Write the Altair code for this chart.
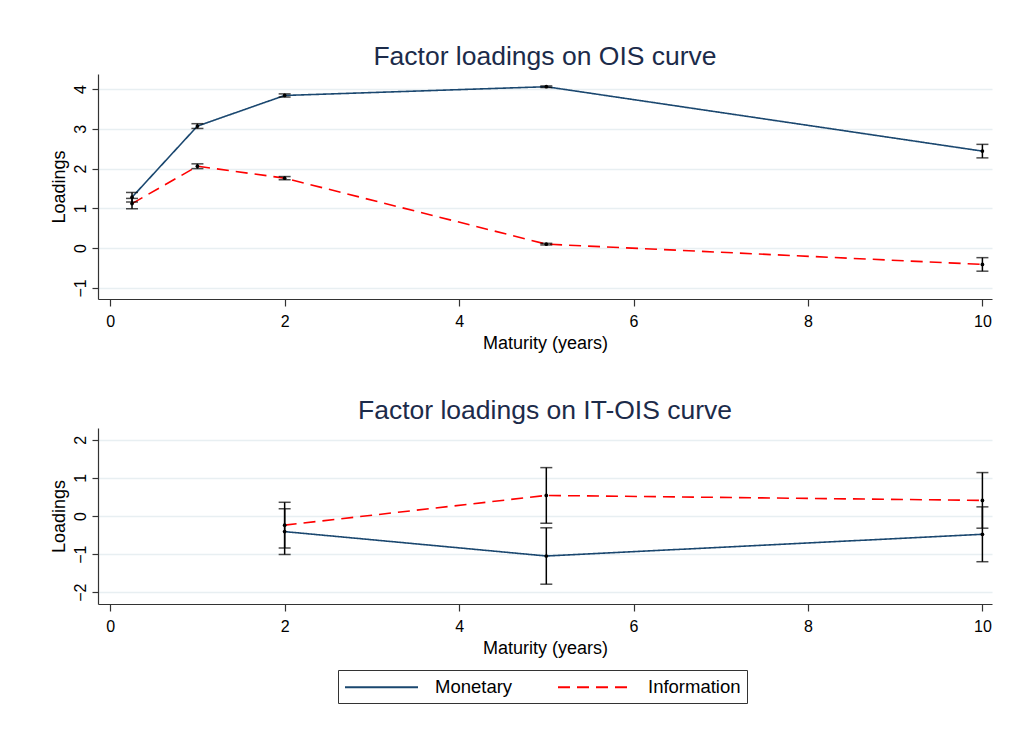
import altair as alt
import pandas as pd

# ---- data ----
series = ["Monetary", "Information"]

mat_top = [0.25, 1, 2, 5, 10]
mon_top = [1.28, 3.07, 3.84, 4.06, 2.44]
mon_top_hw = [0.12, 0.06, 0.04, 0.02, 0.17]
info_top = [1.12, 2.06, 1.76, 0.10, -0.41]
info_top_hw = [0.13, 0.06, 0.04, 0.02, 0.17]

mat_bot = [2, 5, 10]
mon_bot = [-0.41, -1.05, -0.48]
mon_bot_hw = [0.60, 0.74, 0.72]
info_bot = [-0.24, 0.54, 0.41]
info_bot_hw = [0.60, 0.73, 0.73]

x_ticks = [0, 2, 4, 6, 8, 10]
y_ticks_top = [-1, 0, 1, 2, 3, 4]
y_ticks_bot = [-2, -1, 0, 1, 2]


def frame(mat, mon, mon_hw, info, info_hw):
    rows = []
    for m, v, h in zip(mat, mon, mon_hw):
        rows.append({"maturity": m, "loading": v, "lo": v - h, "hi": v + h, "series": "Monetary"})
    for m, v, h in zip(mat, info, info_hw):
        rows.append({"maturity": m, "loading": v, "lo": v - h, "hi": v + h, "series": "Information"})
    return pd.DataFrame(rows)


df_top = frame(mat_top, mon_top, mon_top_hw, info_top, info_top_hw)
df_bot = frame(mat_bot, mon_bot, mon_bot_hw, info_bot, info_bot_hw)

FONT = "Arial"
W = 894


def panel(df, title, ydom, yticks, h):
    xs = alt.X("maturity:Q", scale=alt.Scale(domain=[-0.14, 10.11], nice=False, zero=False),
               axis=alt.Axis(values=x_ticks, title="Maturity (years)", grid=False, format="d",
                             labelPadding=7, tickSize=7))
    ys = alt.Y("loading:Q", scale=alt.Scale(domain=ydom, nice=False, zero=False),
               axis=alt.Axis(values=yticks, title="Loadings", grid=True, labelAngle=270,
                             labelAlign="center", labelBaseline="bottom", format="d"))
    base = alt.Chart(df)
    lines = base.mark_line(strokeWidth=1.6).encode(
        x=xs, y=ys,
        color=alt.Color("series:N", scale=alt.Scale(domain=series, range=["#1a476f", "#ff0000"]),
                        legend=alt.Legend(title=None)),
        strokeDash=alt.StrokeDash("series:N", scale=alt.Scale(domain=series, range=[[1, 0], [12, 7]]),
                                  legend=alt.Legend(title=None)),
        order=alt.Order("maturity:Q"),
    )
    rules = base.mark_rule(color="black", strokeWidth=1.5).encode(
        x="maturity:Q", y="lo:Q", y2="hi:Q")
    cap_lo = base.mark_tick(color="black", thickness=1.5, size=12, orient="horizontal").encode(
        x="maturity:Q", y="lo:Q")
    cap_hi = base.mark_tick(color="black", thickness=1.5, size=12, orient="horizontal").encode(
        x="maturity:Q", y="hi:Q")
    pts = base.mark_point(filled=True, color="black", size=14, opacity=1).encode(
        x="maturity:Q", y="loading:Q")
    return alt.layer(lines, rules, cap_lo, cap_hi, pts).properties(
        width=W, height=h,
        title=alt.TitleParams(title, fontSize=26.5, font=FONT, fontWeight="normal",
                              color="#1c2b4a", anchor="middle", offset=4),
    )


top = panel(df_top, "Factor loadings on OIS curve", [-1.28, 4.38], y_ticks_top, 225)
bot = panel(df_bot, "Factor loadings on IT-OIS curve", [-2.31, 2.31], y_ticks_bot, 176)

chart = alt.vconcat(top, bot, spacing=45).resolve_scale(
    color="shared", strokeDash="shared"
).properties(
    padding={"left": 49, "top": 43, "right": 20, "bottom": 10},
    background="white",
).configure_view(stroke=None).configure_axis(
    labelFont=FONT, titleFont=FONT, labelFontSize=16, titleFontSize=18,
    titleFontWeight="normal", labelColor="black", titleColor="black",
    domainColor="#333333", tickColor="#333333", domainWidth=1.2, tickWidth=1.2,
    tickSize=6, gridColor="#e8eff2", gridWidth=1.3, labelPadding=4, titlePadding=5,
).configure_axisY(titlePadding=4).configure_legend(
    orient="none", legendX=240, legendY=596, direction="horizontal",
    strokeColor="#333333", padding=6, labelFont=FONT, labelFontSize=18.5,
    labelColor="black", symbolType="M-1,0H6.3", symbolSize=400, symbolStrokeWidth=2,
    columnPadding=41, labelOffset=69,
)

chart.save("out.html", embed_options={"renderer": "svg", "actions": False})
